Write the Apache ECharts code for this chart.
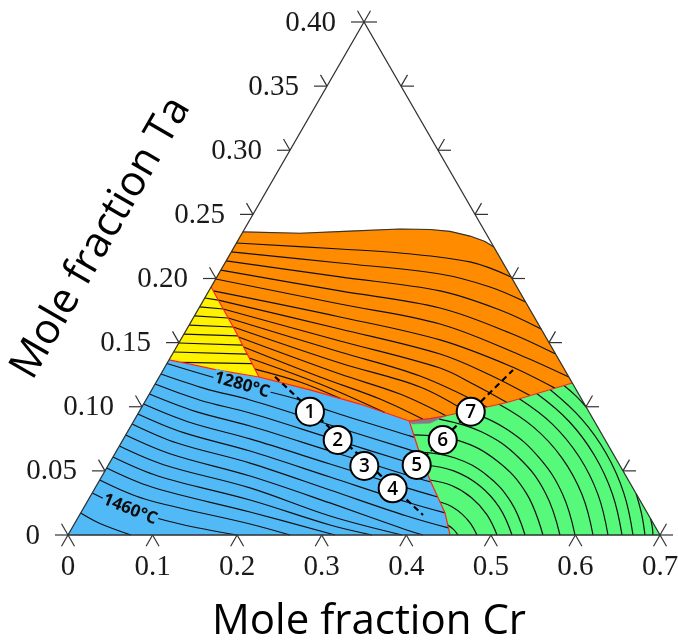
<!DOCTYPE html>
<html>
<head>
<meta charset="utf-8">
<script src="https://cdn.jsdelivr.net/npm/echarts@6.0.0/dist/echarts.min.js"></script>
<style>
  html, body { margin: 0; padding: 0; background: #ffffff; }
  #chart { width: 678px; height: 644px; }
</style>
</head>
<body>
<div id="chart"></div>
<script>
// Ternary liquidus projection. Plot frame: x runs along the Cr axis, y is the Ta fraction;
// the apex of the partial triangle sits at (0.35, 0.40).
const apex = [0.35, 0.40];
const crMax = 0.7;

const crTicks = [0, 0.1, 0.2, 0.3, 0.4, 0.5, 0.6, 0.7];
const crTickLabels = ['0', '0.1', '0.2', '0.3', '0.4', '0.5', '0.6', '0.7'];
const taTicks = [0, 0.05, 0.10, 0.15, 0.20, 0.25, 0.30, 0.35, 0.40];
const taTickLabels = ['0', '0.05', '0.10', '0.15', '0.20', '0.25', '0.30', '0.35', '0.40'];

const outline = [[0, 0], [0.7, 0], [0.35, 0.4]];

// primary-phase fields
const orangeRegion = [[0.2067,0.2363],[0.2743,0.2353],[0.3334,0.2370],[0.3926,0.2386],[0.4280,0.2382],[0.4517,0.2367],[0.4753,0.2331],[0.4931,0.2289],[0.5035,0.2246],[0.5963,0.1185],[0.5616,0.1117],[0.5191,0.1033],[0.4954,0.0998],[0.4671,0.0959],[0.4481,0.0932],[0.4280,0.0908],[0.4035,0.0889],[0.3453,0.1021],[0.2861,0.1131],[0.2258,0.1232],[0.1986,0.1583],[0.1692,0.1934]];
const blueRegion = [[0,0],[0.4517,0],[0.4458,0.0172],[0.4280,0.0429],[0.4138,0.0678],[0.4035,0.0889],[0.3453,0.1021],[0.2861,0.1131],[0.2258,0.1232],[0.1758,0.1287],[0.1443,0.1333],[0.1194,0.1365]];
const yellowRegion = [[0.1692,0.1934],[0.1986,0.1583],[0.2258,0.1232],[0.1758,0.1287],[0.1443,0.1333],[0.1194,0.1365]];
const greenRegion = [[0.4517,0],[0.7,0],[0.5963,0.1185],[0.5616,0.1117],[0.5191,0.1033],[0.4954,0.0998],[0.4671,0.0959],[0.4481,0.0932],[0.4280,0.0871],[0.4068,0.0866],[0.4035,0.0889],[0.4138,0.0678],[0.4280,0.0429],[0.4458,0.0172]];
const grayRegion = [[0.4035,0.0889],[0.4280,0.0908],[0.4481,0.0932],[0.4280,0.0871],[0.4068,0.0866]];

// upper limit of the orange field
const orangeTop = [[0.2067,0.2363],[0.2743,0.2353],[0.3334,0.2370],[0.3926,0.2386],[0.4280,0.2382],[0.4517,0.2367],[0.4753,0.2331],[0.4931,0.2289],[0.5035,0.2246]];

// monovariant lines between the fields
const phaseBoundaries = [
  [[0.1692,0.1934],[0.1986,0.1583],[0.2258,0.1232]],
  [[0.1194,0.1365],[0.1443,0.1333],[0.1758,0.1287],[0.2258,0.1232]],
  [[0.2258,0.1232],[0.2861,0.1131],[0.3453,0.1021],[0.4035,0.0889],[0.4280,0.0908],[0.4481,0.0932],[0.4671,0.0959],[0.4954,0.0998],[0.5191,0.1033],[0.5616,0.1117],[0.5963,0.1185]],
  [[0.4035,0.0889],[0.4138,0.0678],[0.4280,0.0429],[0.4458,0.0172],[0.4517,0]]
];

// liquidus isotherms
const yellowIsotherms = [
  [[0.1617,0.1848],[0.1778,0.1832]],
  [[0.1556,0.1778],[0.1836,0.1762]],
  [[0.1494,0.1708],[0.1895,0.1692]],
  [[0.1433,0.1637],[0.1954,0.1622]],
  [[0.1371,0.1567],[0.2010,0.1552]],
  [[0.1310,0.1497],[0.2065,0.1481]],
  [[0.1249,0.1427],[0.2119,0.1411]],
  [[0.1342,0.1346],[0.2177,0.1337]]
];
const orangeIsotherms = [
  [[0.1992,0.2277],[0.3216,0.2230],[0.3926,0.2199],[0.4753,0.2129],[0.5240,0.2012]],
  [[0.1931,0.2207],[0.3216,0.2121],[0.4399,0.2035],[0.4990,0.1934],[0.5410,0.1817]],
  [[0.1869,0.2137],[0.3216,0.2012],[0.4399,0.1903],[0.5108,0.1754],[0.5595,0.1606]],
  [[0.1808,0.2066],[0.3216,0.1903],[0.4399,0.1770],[0.5226,0.1575],[0.5765,0.1411]],
  [[0.1747,0.1996],[0.3216,0.1801],[0.4399,0.1645],[0.5344,0.1404],[0.5922,0.1232]],
  [[0.1718,0.1903],[0.3216,0.1700],[0.4399,0.1521],[0.5226,0.1318],[0.5758,0.1145]],
  [[0.1778,0.1832],[0.3216,0.1606],[0.4399,0.1411],[0.4990,0.1248],[0.5463,0.1087]],
  [[0.1836,0.1762],[0.3216,0.1513],[0.4399,0.1302],[0.4812,0.1170],[0.5191,0.1033]],
  [[0.1895,0.1692],[0.3216,0.1427],[0.4162,0.1240],[0.4954,0.0998]],
  [[0.1954,0.1622],[0.3216,0.1341],[0.4162,0.1154],[0.4706,0.0964]],
  [[0.2016,0.1544],[0.3216,0.1255],[0.3926,0.1099],[0.4470,0.0930]],
  [[0.2077,0.1466],[0.2980,0.1232],[0.3689,0.1060],[0.4198,0.0902]],
  [[0.2143,0.1380],[0.2980,0.1177],[0.3748,0.0954]],
  [[0.2210,0.1294],[0.2743,0.1193],[0.3216,0.1065]]
];
const blueIsotherms = [
  [[0.1170,0.1337],[0.1703,0.1232],[0.2152,0.1154],[0.2743,0.1053],[0.3098,0.0967],[0.4005,0.0780],[0.4098,0.0761]],
  [[0.1099,0.1255],[0.1631,0.1139],[0.2152,0.1053],[0.3098,0.0858],[0.4005,0.0671],[0.4161,0.0639]],
  [[0.1030,0.1177],[0.1562,0.1051],[0.2152,0.0951],[0.3098,0.0756],[0.4005,0.0569],[0.4225,0.0526]],
  [[0.0962,0.1099],[0.1495,0.0966],[0.2152,0.0850],[0.3098,0.0655],[0.4005,0.0468],[0.4291,0.0413]],
  [[0.0894,0.1021],[0.1426,0.0881],[0.2152,0.0749],[0.3098,0.0554],[0.4005,0.0367],[0.4372,0.0296]],
  [[0.0826,0.0944],[0.1357,0.0800],[0.2152,0.0655],[0.3098,0.0452],[0.4005,0.0257],[0.4458,0.0172]],
  [[0.0757,0.0866],[0.1289,0.0717],[0.2152,0.0561],[0.3098,0.0351],[0.4005,0.0148],[0.4498,0.0055]],
  [[0.0682,0.0780],[0.1214,0.0632],[0.2152,0.0460],[0.3098,0.0250],[0.4005,0.0039],[0.4198,0]],
  [[0.0607,0.0694],[0.1140,0.0546],[0.2152,0.0367],[0.3098,0.0148],[0.3949,0]],
  [[0.0532,0.0608],[0.1064,0.0460],[0.2152,0.0273],[0.3098,0.0078],[0.3595,0]],
  [[0.0457,0.0522],[0.0990,0.0374],[0.2152,0.0179],[0.3157,0]],
  [[0.0375,0.0429],[0.0907,0.0281],[0.2152,0.0086],[0.2625,0]],
  [[0.0287,0.0328],[0.0733,0.0195],[0.1324,0.0086],[0.1998,0]],
  [[0.0150,0.0172],[0.0378,0.0090],[0.0745,0]]
];
const greenIsotherms = [
  [[0.4490,0.0077],[0.4558,0.0044],[0.4611,0]],
  [[0.4399,0.0257],[0.4540,0.0221],[0.4663,0.0161],[0.4763,0.0087],[0.4836,0]],
  [[0.4280,0.0429],[0.4542,0.0384],[0.4772,0.0291],[0.4953,0.0159],[0.5073,0]],
  [[0.4214,0.0546],[0.4561,0.0500],[0.4868,0.0384],[0.5104,0.0212],[0.5250,0]],
  [[0.4157,0.0646],[0.4577,0.0600],[0.4952,0.0466],[0.5237,0.0258],[0.5404,0]],
  [[0.4088,0.0781],[0.4611,0.0738],[0.5075,0.0577],[0.5424,0.0321],[0.5616,0]],
  [[0.4389,0.0904],[0.4894,0.0803],[0.5328,0.0604],[0.5645,0.0328],[0.5817,0]],
  [[0.4734,0.0968],[0.5193,0.0823],[0.5573,0.0601],[0.5847,0.0320],[0.5995,0]],
  [[0.5097,0.1019],[0.5508,0.0839],[0.5842,0.0600],[0.6079,0.0314],[0.6208,0]],
  [[0.5336,0.1062],[0.5730,0.0863],[0.6044,0.0610],[0.6266,0.0317],[0.6385,0]],
  [[0.5542,0.1103],[0.5923,0.0887],[0.6224,0.0622],[0.6436,0.0322],[0.6551,0]],
  [[0.5699,0.1134],[0.6072,0.0905],[0.6366,0.0633],[0.6572,0.0327],[0.6681,0]],
  [[0.5865,0.1166],[0.6005,0.1085],[0.6127,0.0998]],
  [[0.6718,0.0322],[0.6783,0.0162],[0.6822,0]],
  [[0.6887,0.0129],[0.6908,0.0066],[0.6917,0]]
];

// isotherm annotations
const isothermLabelTexts = ['1280°C', '1460°C'];
const isothermLabelPoints = [[0.2057, 0.1170], [0.0733, 0.0199]];

// numbered alloy compositions and the two sections through them
const alloyNames = ['1', '2', '3', '4', '5', '6', '7'];
const alloyPoints = [[0.2861,0.0961],[0.3189,0.0741],[0.3504,0.0538],[0.3839,0.0364],[0.4123,0.0546],[0.4431,0.0741],[0.4762,0.0961]];
const sectionA = [[0.2448,0.1234],[0.4198,0.0156]];
const sectionB = [[0.4123,0.0546],[0.5262,0.1287]];

// ---------- drawing ----------
const COLORS = { orange: '#FF8C00', blue: '#52B9F7', yellow: '#FFF200', green: '#57F97A', gray: '#808080' };

function shapeSeries(list, makeShape, z) {
  return {
    type: 'custom',
    coordinateSystem: 'cartesian2d',
    silent: true,
    clip: false,
    z: z,
    data: list.map((item, i) => [0.1, 0.1, i]),
    renderItem: (params, api) => makeShape(list[params.dataIndex], params.dataIndex, api)
  };
}

function regionSeries(pts, color, z) {
  return shapeSeries([pts], (p, i, api) => ({
    type: 'polygon',
    shape: { points: p.map(q => api.coord(q)) },
    style: { fill: color, stroke: color, lineWidth: 0.5 }
  }), z);
}

function lineSeries(list, stroke, width, smooth, z, dash) {
  return shapeSeries(list, (p, i, api) => ({
    type: 'polyline',
    shape: { points: p.map(q => api.coord(q)), smooth: smooth },
    style: { stroke: stroke, lineWidth: width, fill: 'none', lineDash: dash || null }
  }), z);
}

const TICK = 13;
const tickStyle = { stroke: '#333', lineWidth: 1.2 };
const numFont = '29px "Liberation Serif", "Times New Roman", serif';

const leftTicks = shapeSeries(taTicks, (t, i, api) => {
  const p = api.coord([apex[0] * t / apex[1], t]);
  return { type: 'group', children: [
    { type: 'line', shape: { x1: p[0], y1: p[1], x2: p[0] - TICK, y2: p[1] }, style: tickStyle },
    { type: 'line', shape: { x1: p[0], y1: p[1], x2: p[0] - TICK * 0.5, y2: p[1] - TICK * 0.866 }, style: tickStyle },
    { type: 'text', x: p[0] - 28, y: p[1] + 1, style: { text: taTickLabels[i], font: numFont, fill: '#1a1a1a', align: 'right', verticalAlign: 'middle' } }
  ]};
}, 6);

const rightTicks = shapeSeries(taTicks, (t, i, api) => {
  const p = api.coord([crMax - apex[0] * t / apex[1], t]);
  return { type: 'group', children: [
    { type: 'line', shape: { x1: p[0], y1: p[1], x2: p[0] + TICK, y2: p[1] }, style: tickStyle },
    { type: 'line', shape: { x1: p[0], y1: p[1], x2: p[0] + TICK * 0.5, y2: p[1] - TICK * 0.866 }, style: tickStyle }
  ]};
}, 6);

const bottomTicks = shapeSeries(crTicks, (c, i, api) => {
  const p = api.coord([c, 0]);
  return { type: 'group', children: [
    { type: 'line', shape: { x1: p[0], y1: p[1], x2: p[0] - TICK * 0.5, y2: p[1] + TICK * 0.866 }, style: tickStyle },
    { type: 'line', shape: { x1: p[0], y1: p[1], x2: p[0] + TICK * 0.5, y2: p[1] + TICK * 0.866 }, style: tickStyle },
    { type: 'text', x: p[0], y: p[1] + 32, style: { text: crTickLabels[i], font: numFont, fill: '#1a1a1a', align: 'center', verticalAlign: 'middle' } }
  ]};
}, 6);

const labelAngles = [-16, -22];
const isothermLabels = shapeSeries(isothermLabelPoints, (pt, i, api) => {
  const p = api.coord(pt);
  return { type: 'text', x: p[0], y: p[1], rotation: labelAngles[i] * Math.PI / 180,
    style: { text: isothermLabelTexts[i], font: 'bold 17px "Open Sans", sans-serif', fill: '#0d0d0d',
      align: 'center', verticalAlign: 'middle', backgroundColor: COLORS.blue, padding: [0, 1] } };
}, 7);

const alloyMarkers = shapeSeries(alloyPoints, (pt, i, api) => {
  const p = api.coord(pt);
  return { type: 'group', children: [
    { type: 'circle', shape: { cx: p[0], cy: p[1], r: 14 }, style: { fill: '#fff', stroke: '#000', lineWidth: 2 } },
    { type: 'text', x: p[0], y: p[1] + 1, style: { text: alloyNames[i], font: '600 19px "Open Sans", sans-serif', fill: '#000', align: 'center', verticalAlign: 'middle' } }
  ]};
}, 9);

const chart = echarts.init(document.getElementById('chart'), null, { renderer: 'canvas' });
chart.setOption({
  animation: false,
  backgroundColor: '#ffffff',
  grid: { left: 68, right: 18, top: 22, bottom: 109 },
  xAxis: { type: 'value', min: 0, max: 0.7, show: false },
  yAxis: { type: 'value', min: 0, max: 0.4, show: false },
  graphic: [
    { type: 'text', x: 369, y: 622, style: { text: 'Mole fraction Cr', font: '42px "Open Sans", sans-serif', fill: '#000', align: 'center', verticalAlign: 'middle' } },
    { type: 'text', x: 101, y: 238, rotation: Math.PI / 3, style: { text: 'Mole fraction Ta', font: '42px "Open Sans", sans-serif', fill: '#000', align: 'center', verticalAlign: 'middle' } }
  ],
  series: [
    regionSeries(blueRegion, COLORS.blue, 1),
    regionSeries(orangeRegion, COLORS.orange, 1),
    regionSeries(yellowRegion, COLORS.yellow, 1),
    regionSeries(greenRegion, COLORS.green, 1),
    regionSeries(grayRegion, COLORS.gray, 1),
    lineSeries(yellowIsotherms, '#111', 1.2, 0, 2),
    lineSeries(orangeIsotherms, '#111', 1.2, 0.35, 2),
    lineSeries(blueIsotherms, '#111', 1.2, 0.35, 2),
    lineSeries(greenIsotherms, '#111', 1.2, 0.4, 2),
    lineSeries([orangeTop], '#333', 1.2, 0, 3),
    lineSeries(phaseBoundaries, '#FF2020', 1.2, 0, 4),
    lineSeries([outline.concat([outline[0]])], '#333', 1.3, 0, 5),
    leftTicks, rightTicks, bottomTicks,
    isothermLabels,
    lineSeries([sectionA, sectionB], '#000', 2.2, 0, 8, [6, 4]),
    alloyMarkers
  ]
});
</script>
</body>
</html>
